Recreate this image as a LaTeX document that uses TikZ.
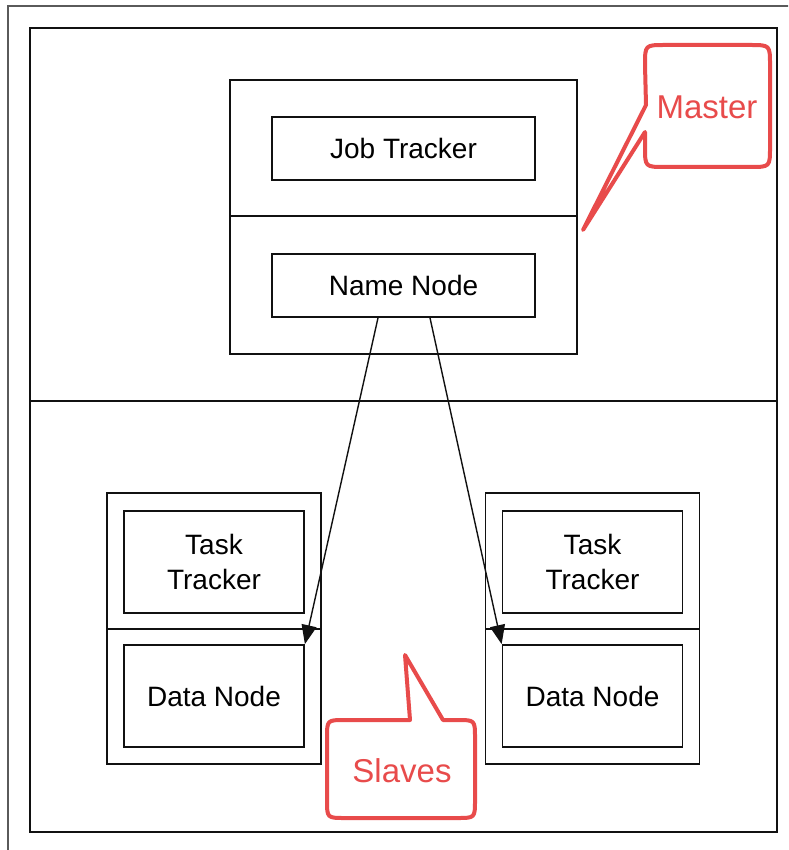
\documentclass[tikz,border=0pt]{standalone}
\usepackage{fontspec}
\setmainfont{Liberation Sans}
\usetikzlibrary{arrows.meta,positioning}
\definecolor{ink}{HTML}{111111}
\definecolor{frameg}{HTML}{5A5A5A}
\definecolor{alert}{HTML}{E84B4B}
\tikzset{
  tier/.style={draw=ink,line width=1.8pt,inner sep=0pt},
  unitbox/.style={draw=ink,line width=1.8pt,inner sep=0pt,minimum width=214pt,
                  minimum height=136pt},
  inbox/.style={draw=ink,line width=1.8pt,inner sep=0pt,align=center,
                font=\fontsize{28}{35}\selectfont},
  bubble/.style={draw=alert,line width=4pt,line join=round,line cap=round},
  bubbletext/.style={text=alert,font=\fontsize{33}{38}\selectfont},
  arrowthin/.style={-{Triangle[length=19pt,width=15pt]},line width=1.4pt,ink},
}

\begin{document}
\begin{tikzpicture}[x=1pt,y=-1pt]
  \useasboundingbox (0,0) rectangle (788,850);
  \clip (0,0) rectangle (788,850);
  \fill[white] (0,0) rectangle (788,850);
  \draw[frameg,line width=1.8pt] (8,6) rectangle (820,880);
  % two tiers
  \node[tier,minimum width=747pt,minimum height=373pt] (mtier) at (403.5,214.5) {};
  \node[tier,minimum width=747pt,minimum height=431pt] (stier) at (403.5,616.5) {};
  % master
  \node[unitbox,minimum width=347pt,minimum height=136pt] (mup) at (403.5,148) {};
  \node[unitbox,minimum width=347pt,minimum height=138pt] (mlow) at (403.5,285) {};
  \node[inbox,minimum width=263pt,minimum height=63pt] (jt) at (403.5,148.5) {Job Tracker};
  \node[inbox,minimum width=263pt,minimum height=63pt] (nn) at (403.5,285.5) {Name Node};
  % slaves
  \foreach \s/\cx in {1/214,2/592.5}{
    \node[unitbox] (sup\s) at (\cx,561) {};
    \node[unitbox,minimum height=135pt] (slow\s) at (\cx,696.5) {};
    \node[inbox,minimum width=180pt,minimum height=102pt] (tt\s) at (\cx,562) {Task\\Tracker};
    \node[inbox,minimum width=180pt,minimum height=102pt] (dn\s) at (\cx,696) {Data Node};
  }
  \draw[arrowthin] ([xshift=-25.5pt]nn.south) -- (dn1.north east);
  \draw[arrowthin] ([xshift=26.5pt]nn.south) -- (dn2.north west);
  % callouts
  \node[bubbletext] (master) at (707,107) {Master};
  \draw[bubble] (583,230) -- (646,105) -- (645,65) .. controls (645,45) .. (665,45)
    -- (750,45) .. controls (770,45) .. (770,65) -- (770,147)
    .. controls (770,167) .. (750,167) -- (665,167) .. controls (645,167) .. (645,147)
    -- (645,132) -- cycle;
  \node[bubbletext] (slaves) at (402,771) {Slaves};
  \draw[bubble] (405,655) -- (443,720) -- (457,720) .. controls (475,720) .. (475,738)
    -- (475,800) .. controls (475,818) .. (457,818) -- (345,818)
    .. controls (327,818) .. (327,800) -- (327,738) .. controls (327,720) .. (345,720)
    -- (410,720) -- cycle;
\end{tikzpicture}
\end{document}
